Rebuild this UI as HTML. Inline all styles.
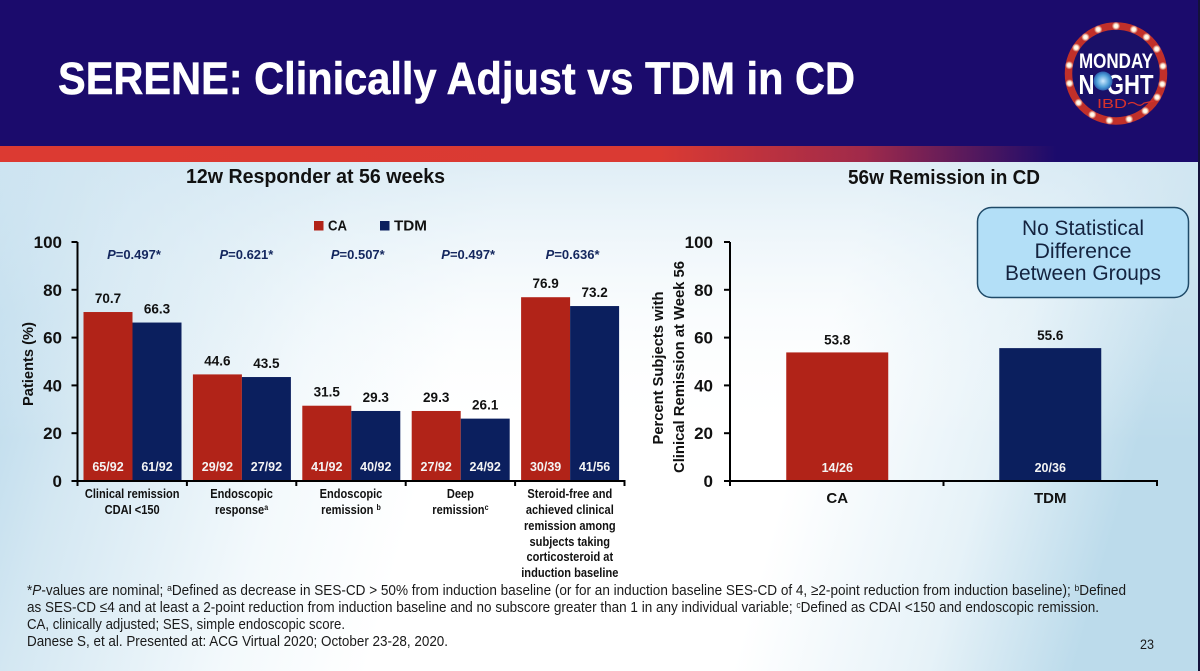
<!DOCTYPE html>
<html lang="en">
<head>
<meta charset="utf-8">
<title>SERENE: Clinically Adjust vs TDM in CD</title>
<style>
html,body{margin:0;padding:0;width:1200px;height:671px;overflow:hidden;background:#fff}
svg{display:block;font-family:"Liberation Sans",sans-serif}
</style>
</head>
<body>
<svg id="slide" xmlns="http://www.w3.org/2000/svg" width="1200" height="671" viewBox="0 0 1200 671">
<defs>
<linearGradient id="bgLeft" x1="0" y1="0" x2="1" y2="0.12"><stop offset="0" stop-color="#b4d6ea"/><stop offset="0.12" stop-color="#d3e7f2"/><stop offset="0.3" stop-color="#f3f9fc"/><stop offset="0.42" stop-color="#ffffff"/><stop offset="0.72" stop-color="#ffffff"/><stop offset="0.88" stop-color="#e6f2f8"/><stop offset="1" stop-color="#bcdbeb"/></linearGradient>
<linearGradient id="bgTop" x1="0" y1="0" x2="0" y2="1"><stop offset="0" stop-color="#d5e8f3" stop-opacity="0.75"/><stop offset="0.3" stop-color="#e8f3f9" stop-opacity="0.25"/><stop offset="0.55" stop-color="#ffffff" stop-opacity="0"/></linearGradient>
<linearGradient id="redBar" x1="0" y1="0" x2="1" y2="0"><stop offset="0" stop-color="#dc3a32"/><stop offset="0.55" stop-color="#da3a33"/><stop offset="0.72" stop-color="#a02a4a"/><stop offset="0.88" stop-color="#1b0b6c"/><stop offset="1" stop-color="#1b0b6c"/></linearGradient>
<radialGradient id="lightGlow"><stop offset="0" stop-color="#ffffff"/><stop offset="0.45" stop-color="#fff3dc"/><stop offset="1" stop-color="#fff3dc" stop-opacity="0"/></radialGradient>
<radialGradient id="bulbGlow"><stop offset="0" stop-color="#cfeaff"/><stop offset="0.65" stop-color="#4f9fd8"/><stop offset="1" stop-color="#2a5fae"/></radialGradient>
</defs>

<rect x="0" y="162" width="1200" height="509" fill="url(#bgLeft)"/>
<rect x="0" y="162" width="1200" height="509" fill="url(#bgTop)"/>
<rect x="0" y="0" width="1200" height="146" fill="#1b0b6c"/>
<rect x="0" y="146" width="1200" height="16" fill="url(#redBar)"/>
<text x="58" y="94" font-size="45" font-weight="700" fill="#ffffff" stroke="#ffffff" stroke-width="0.5" textLength="797" lengthAdjust="spacingAndGlyphs">SERENE: Clinically Adjust vs TDM in CD</text>

<g id="logo">
<circle cx="1116" cy="73.5" r="47.5" fill="#1a1068" stroke="#c1302a" stroke-width="7.5"/>
<text x="1116" y="68" text-anchor="middle" font-size="21" font-weight="700" fill="#ffffff" textLength="74" lengthAdjust="spacingAndGlyphs">MONDAY</text>
<text x="1116" y="94" text-anchor="middle" font-size="28" font-weight="700" fill="#ffffff" textLength="75" lengthAdjust="spacingAndGlyphs">N&#160;&#160;GHT</text>
<circle cx="1103" cy="81" r="9.5" fill="url(#bulbGlow)"/>
<text x="1112" y="108" text-anchor="middle" font-size="13" font-weight="400" fill="#d8322c" textLength="30" lengthAdjust="spacingAndGlyphs">IBD</text>
<path d="M1128 104 q4 -3 8 0 t8 -1 l10 -2" fill="none" stroke="#d8322c" stroke-width="1.2"/>
</g>

<text x="186" y="183" font-size="20" font-weight="700" fill="#111" textLength="259" lengthAdjust="spacingAndGlyphs">12w Responder at 56 weeks</text>
<text x="848" y="184" font-size="20" font-weight="700" fill="#111" textLength="192" lengthAdjust="spacingAndGlyphs">56w Remission in CD</text>

<rect x="314" y="221" width="9.5" height="9.5" fill="#b12318"/>
<text x="328" y="230.5" font-size="14.5" font-weight="700" fill="#111" textLength="19" lengthAdjust="spacingAndGlyphs">CA</text>
<rect x="380" y="221" width="9.5" height="9.5" fill="#0b1f5e"/>
<text x="394" y="230.5" font-size="14.5" font-weight="700" fill="#111" textLength="33" lengthAdjust="spacingAndGlyphs">TDM</text>

<g id="left-chart"></g>
<g id="right-chart"></g>

<text transform="translate(33,364) rotate(-90)" text-anchor="middle" font-size="15" font-weight="700" fill="#111" textLength="84" lengthAdjust="spacingAndGlyphs">Patients (%)</text>
<text transform="translate(663,368) rotate(-90)" text-anchor="middle" font-size="15" font-weight="700" fill="#111" textLength="153" lengthAdjust="spacingAndGlyphs">Percent Subjects with</text>
<text transform="translate(684,367) rotate(-90)" text-anchor="middle" font-size="15" font-weight="700" fill="#111" textLength="212" lengthAdjust="spacingAndGlyphs">Clinical Remission at Week 56</text>

<rect x="977.5" y="207.5" width="211" height="90" rx="14" ry="14" fill="#b3dff7" stroke="#1f4a68" stroke-width="1.5"/>
<text x="1083" y="235" text-anchor="middle" font-size="21" fill="#14233f" textLength="122" lengthAdjust="spacingAndGlyphs">No Statistical</text>
<text x="1083" y="258" text-anchor="middle" font-size="21" fill="#14233f" textLength="97" lengthAdjust="spacingAndGlyphs">Difference</text>
<text x="1083" y="280" text-anchor="middle" font-size="21" fill="#14233f" textLength="156" lengthAdjust="spacingAndGlyphs">Between Groups</text>

<text x="27" y="595" font-size="15" fill="#1a1a1a" textLength="1099" lengthAdjust="spacingAndGlyphs">*<tspan font-style="italic">P</tspan>-values are nominal; <tspan font-size="9.5" dy="-4">a</tspan><tspan dy="4">Defined as decrease in SES-CD &gt; 50% from induction baseline (or for an induction baseline SES-CD of 4, ≥2-point reduction from induction baseline); </tspan><tspan font-size="9.5" dy="-4">b</tspan><tspan dy="4">Defined</tspan></text>
<text x="27" y="612" font-size="15" fill="#1a1a1a" textLength="1072" lengthAdjust="spacingAndGlyphs">as SES-CD ≤4 and at least a 2-point reduction from induction baseline and no subscore greater than 1 in any individual variable; <tspan font-size="9.5" dy="-4">c</tspan><tspan dy="4">Defined as CDAI &lt;150 and endoscopic remission.</tspan></text>
<text x="27" y="629" font-size="15" fill="#1a1a1a" textLength="318" lengthAdjust="spacingAndGlyphs">CA, clinically adjusted; SES, simple endoscopic score.</text>
<text x="27" y="646" font-size="15" fill="#1a1a1a" textLength="421" lengthAdjust="spacingAndGlyphs">Danese S, et al. Presented at: ACG Virtual 2020; October 23-28, 2020.</text>
<text x="1140" y="649" font-size="14" fill="#1a1a1a" textLength="14" lengthAdjust="spacingAndGlyphs">23</text>
<rect x="1198" y="0" width="2" height="671" fill="#14123a"/>
</svg>

<script>
var yTicks = [0, 20, 40, 60, 80, 100];
var leftCategories = [
  ["Clinical remission", "CDAI <150"],
  ["Endoscopic", "response|a"],
  ["Endoscopic", "remission |b"],
  ["Deep", "remission|c"],
  ["Steroid-free and", "achieved clinical", "remission among", "subjects taking", "corticosteroid at", "induction baseline"]
];
var caValues = [70.7, 44.6, 31.5, 29.3, 76.9];
var tdmValues = [66.3, 43.5, 29.3, 26.1, 73.2];
var caCounts = ["65/92", "29/92", "41/92", "27/92", "30/39"];
var tdmCounts = ["61/92", "27/92", "40/92", "24/92", "41/56"];
var pValues = ["=0.497*", "=0.621*", "=0.507*", "=0.497*", "=0.636*"];
var rightCategories = ["CA", "TDM"];
var rightValues = [53.8, 55.6];
var rightCounts = ["14/26", "20/36"];

var NS = "http://www.w3.org/2000/svg";
var RED = "#b12318";
var NAVY = "#0b1f5e";
var INK = "#111111";
var P_LABEL_NUDGE = [2.5, 5.5, 7.5, 8.5, 3.5];

function make(parent, tag, attrs, content) {
  var el = document.createElementNS(NS, tag);
  for (var k in attrs) el.setAttribute(k, attrs[k]);
  if (content !== undefined) el.textContent = content;
  parent.appendChild(el);
  return el;
}

function yScale(v) { return 481 - v * 2.39; }

function drawAxes(g, x0, x1, bandCount, labelX) {
  var yAxis = make(g, "line", { x1: x0, x2: x0, y1: yScale(100), y2: yScale(0) + 1, stroke: "#000", "stroke-width": 2 });
  
  
  var xAxis = make(g, "line", { x1: x0 - 6, x2: x1 + 1, y1: yScale(0), y2: yScale(0), stroke: "#000", "stroke-width": 2 });
  
  
  yTicks.forEach(function (t) {
    var tick = make(g, "line", { x1: x0 - 6, x2: x0, y1: yScale(t), y2: yScale(t), stroke: "#000", "stroke-width": 2 });
    
    
    var lab = make(g, "text", { x: labelX, y: yScale(t) + 6, "text-anchor": "end", "font-size": 17, "font-weight": 700, fill: INK }, String(t));
    
    
  });
  for (var i = 0; i <= bandCount; i++) {
    var x = x0 + (x1 - x0) * i / bandCount;
    var xt = make(g, "line", { x1: x, x2: x, y1: yScale(0), y2: yScale(0) + 5, stroke: "#000", "stroke-width": 2 });
    
    
  }
}

function drawBar(g, x, w, v, color, count, countY, valueGap, valueSize, countSize) {
  var bar = make(g, "rect", { x: x, y: yScale(v), width: w, height: yScale(0) - yScale(v), fill: color });
  
  
  var val = make(g, "text", { x: x + w / 2, y: yScale(v) - valueGap, "text-anchor": "middle", "font-size": valueSize, "font-weight": 700, fill: INK }, v.toFixed(1));
  
  
  var c = make(g, "text", { x: x + w / 2, y: countY, "text-anchor": "middle", "font-size": countSize, "font-weight": 700, fill: "#f4f4f4" }, count);
  
  
}

function drawCategoryLine(g, x, y, line) {
  var parts = line.split("|");
  var t = make(g, "text", { x: x, y: y, "text-anchor": "middle", "font-size": 12.5, "font-weight": 700, fill: INK }, parts[0]);
  
  
  if (parts[1]) {
    var s = make(t, "tspan", { "font-size": 8, dy: -4 }, parts[1]);
    
    
  }
  t.setAttribute("textLength", t.getComputedTextLength() * 0.885);
  t.setAttribute("lengthAdjust", "spacingAndGlyphs");
}

(function () {
  var g = document.getElementById("left-chart");
  var x0 = 77.5, x1 = 624.5, n = leftCategories.length, band = (x1 - x0) / n, barW = 49;
  var lineYs = [498, 514, 530, 546, 561, 577];
  caValues.forEach(function (v, i) {
    var start = x0 + band * i + 6;
    drawBar(g, start, barW, v, RED, caCounts[i], 471, 9, 13.5, 12.5);
    drawBar(g, start + barW, barW, tdmValues[i], NAVY, tdmCounts[i], 471, 9, 13.5, 12.5);
    var p = make(g, "text", { x: start + barW - 1 + P_LABEL_NUDGE[i], y: 259, "text-anchor": "middle", "font-size": 13, "font-weight": 700, fill: "#14275e" });
    
    
    var pp = make(p, "tspan", { "font-style": "italic" }, "P");
    
    
    var pv = make(p, "tspan", {}, pValues[i]);
    
    
    leftCategories[i].forEach(function (line, j) {
      drawCategoryLine(g, x0 + band * (i + 0.5), lineYs[j], line);
    });
  });
  drawAxes(g, x0, x1, n, 62);
})();

(function () {
  var g = document.getElementById("right-chart");
  var x0 = 730, x1 = 1157, n = rightCategories.length, band = (x1 - x0) / n, barW = 102;
  rightValues.forEach(function (v, i) {
    var centre = x0 + band * (i + 0.5) + (i === 0 ? 0.5 : 0);
    drawBar(g, centre - barW / 2, barW, v, i === 0 ? RED : NAVY, rightCounts[i], 472, 8, 13.5, 12.5);
    var lab = make(g, "text", { x: centre, y: 503, "text-anchor": "middle", "font-size": 15, "font-weight": 700, fill: INK }, rightCategories[i]);
    
    
  });
  drawAxes(g, x0, x1, n, 713);
})();

(function () {
  var logo = document.getElementById("logo");
  var angles = [0, 22, 40, 59, 81, 103, 120, 142, 164, 188, 210, 232, 258, 280, 303, 320, 338];
  angles.forEach(function (a) {
    var r = a * Math.PI / 180;
    var bulb = make(logo, "circle", { cx: 1116 + 47.5 * Math.sin(r), cy: 73.5 - 47.5 * Math.cos(r), r: 4.2, fill: "url(#lightGlow)" });
    
    
  });
})();
</script>
</body>
</html>
